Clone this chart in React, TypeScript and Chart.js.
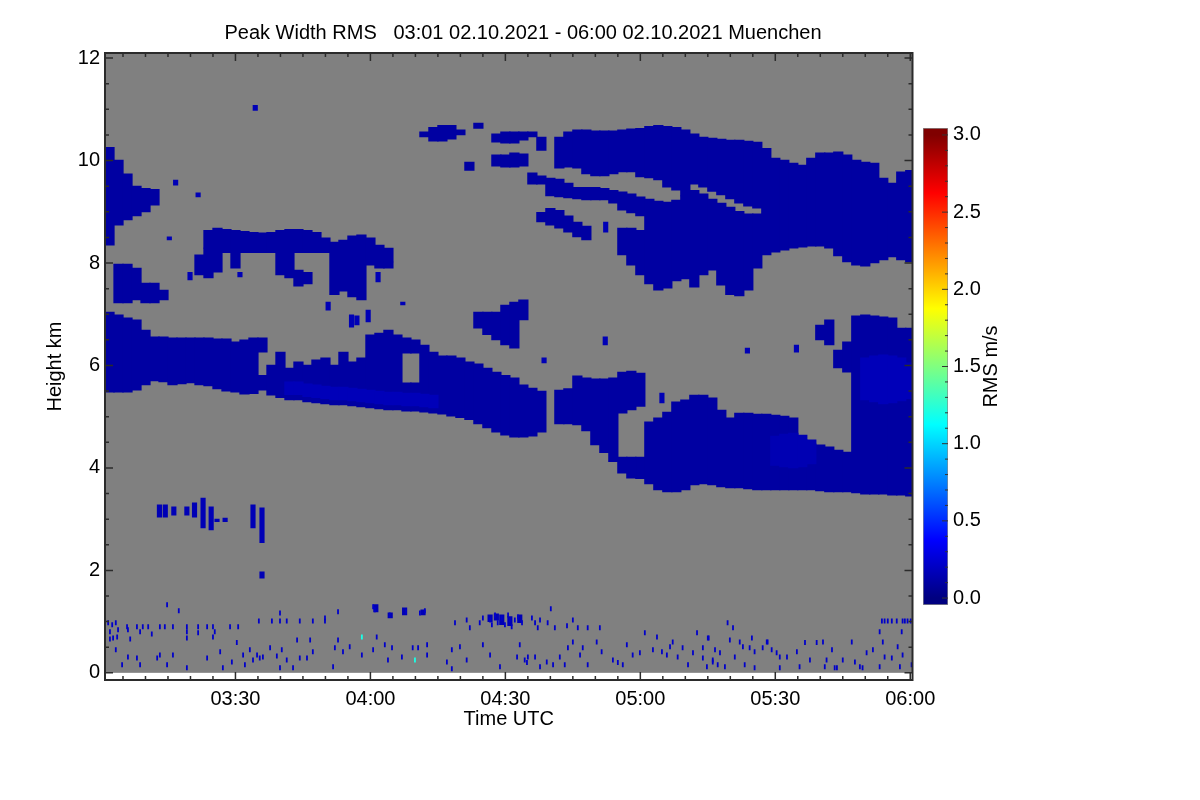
import { useEffect, useRef } from 'react';
import { Chart, registerables } from 'chart.js';

Chart.register(...registerables);

const FONT = "'Liberation Sans', Arial, Helvetica, sans-serif";
Chart.defaults.font.family = FONT;
Chart.defaults.color = '#000';

const titleText = 'Peak Width RMS   03:01 02.10.2021 - 06:00 02.10.2021 Muenchen';

// time is minutes after 00:00 UTC, height in km
const timeMin = 181;
const timeMax = 360.5;
const timeTicks = [210, 240, 270, 300, 330, 360];
const timeLabels = ['03:30', '04:00', '04:30', '05:00', '05:30', '06:00'];
const heightMin = -0.14;
const heightMax = 12.1;
const heightTicks = [0, 2, 4, 6, 8, 10, 12];
const rmsMin = -0.045;
const rmsMax = 3.045;
const rmsTicks = [0, 0.5, 1, 1.5, 2, 2.5, 3];

// cloud layers, one column every 2 minutes from the start minute
const cirrusWestStart = 182;
const cirrusWestTop = [10.26, 10.01, 9.74, 9.5, 9.46, 9.44];
const cirrusWestBase = [8.35, 8.74, 8.84, 8.92, 9.0, 9.13];

const lumpWestStart = 184;
const lumpWestTop = [7.98, 7.98, 7.9, 7.61, 7.61, 7.47];
const lumpWestBase = [7.22, 7.22, 7.28, 7.22, 7.22, 7.28];

const midWestStart = 182;
const midWestTop = [7.04, 6.99, 6.93, 6.89, 6.69, 6.56, 6.56, 6.54, 6.54, 6.54, 6.54, 6.54, 6.52, 6.52, 6.46, 6.5, 6.54, 6.54];
const midWestBase = [5.48, 5.48, 5.48, 5.52, 5.62, 5.7, 5.68, 5.62, 5.64, 5.66, 5.62, 5.6, 5.54, 5.5, 5.48, 5.44, 5.45, 6.26];

const midCentreStart = 216;
const midCentreTop = [5.81, 6.01, 6.26, 5.95, 6.07, 6.01, 6.11, 6.15, 6.01, 6.26, 6.07, 6.15, 6.6, 6.63, 6.69, 6.6, 5.66, 5.66, 6.4, 6.26, 6.19, 6.19, 6.15, 6.07, 6.03, 5.95, 5.87, 5.81, 5.76, 5.62, 5.56, 5.5];
const midCentreBase = [5.52, 5.42, 5.37, 5.33, 5.33, 5.29, 5.27, 5.25, 5.23, 5.23, 5.21, 5.19, 5.17, 5.15, 5.13, 5.13, 5.11, 5.11, 5.09, 5.07, 5.05, 5.01, 4.98, 4.94, 4.86, 4.78, 4.7, 4.64, 4.6, 4.6, 4.62, 4.7];

const ringStart = 248;
const ringTop = [6.54, 6.5];
const ringBase = [6.24, 6.24];

const blobStart = 264;
const blobTop = [7.04, 7.04, 7.04, 7.18, 7.24, 7.28];
const blobBase = [6.73, 6.6, 6.5, 6.4, 6.34, 6.89];

const lobeStart = 282;
const lobeTop = [5.52, 5.55, 5.8, 5.76, 5.74, 5.74, 5.76, 5.87, 5.89, 5.85];
const lobeBase = [4.86, 4.86, 4.84, 4.72, 4.45, 4.3, 4.12, 5.07, 5.13, 5.2];

const armStart = 296;
const armTop = [4.21, 4.21];
const armBase = [3.9, 3.8];

const midEastStart = 300;
const midEastTop = [4.21, 4.9, 4.98, 5.09, 5.29, 5.33, 5.42, 5.42, 5.37, 5.13, 4.98, 5.07, 5.07, 5.05, 5.05, 5.03, 5.01, 4.98, 4.55, 4.47, 4.45, 4.41, 4.35, 4.31];
const midEastBase = [3.79, 3.69, 3.57, 3.53, 3.53, 3.57, 3.67, 3.69, 3.67, 3.63, 3.61, 3.61, 3.59, 3.57, 3.57, 3.57, 3.57, 3.57, 3.57, 3.57, 3.55, 3.53, 3.53, 3.53];

const towerStart = 348;
const towerTop = [6.97, 6.99, 6.97, 6.95, 6.93, 6.73, 6.73];
const towerBase = [3.51, 3.49, 3.49, 3.49, 3.47, 3.47, 3.45];

const deckStart = 204;
const deckTop = [8.64, 8.68, 8.66, 8.64, 8.62, 8.6, 8.59, 8.6, 8.64, 8.66, 8.66, 8.64, 8.6, 8.49, 8.41, 8.45, 8.53, 8.55, 8.49, 8.35, 8.29];
const deckBase = [8.29, 8.25, 8.2, 8.2, 8.2, 8.2, 8.2, 8.2, 8.2, 8.2, 8.2, 8.2, 8.2, 8.2, 8.2, 8.2, 8.2, 8.2, 8.2, 8.2, 8.02];

const upperBandStart = 282;
const upperBandTop = [10.46, 10.56, 10.6, 10.6, 10.58, 10.58, 10.58, 10.6, 10.62, 10.63, 10.67, 10.69, 10.67, 10.65, 10.6, 10.52, 10.46, 10.44, 10.42, 10.4, 10.4, 10.38, 10.36, 10.24, 10.05, 10.01, 9.95, 9.91, 10.05, 10.15, 10.15, 10.17, 10.11, 10.01, 9.97, 9.95, 9.66, 9.56, 9.78, 9.81];
const upperBandBase = [9.85, 9.87, 9.85, 9.74, 9.7, 9.7, 9.74, 9.78, 9.78, 9.68, 9.66, 9.62, 9.48, 9.42, 9.31, 9.54, 9.48, 9.4, 9.33, 9.25, 9.17, 9.11, 9.07, 8.16, 8.21, 8.25, 8.29, 8.31, 8.33, 8.33, 8.29, 8.14, 8.02, 7.96, 7.94, 8.0, 8.06, 8.12, 8.06, 8.02];

const lowerBandStart = 276;
const lowerBandTop = [9.76, 9.7, 9.66, 9.64, 9.56, 9.48, 9.48, 9.48, 9.46, 9.42, 9.39, 9.35, 9.29, 9.25, 9.21, 9.19, 9.23, 9.31, 9.42, 9.35, 9.25, 9.17, 9.09, 9.01, 8.96, 8.96];
const lowerBandBase = [9.54, 9.54, 9.31, 9.29, 9.27, 9.25, 9.23, 9.23, 9.23, 9.17, 9.03, 8.98, 8.92, 7.59, 7.47, 7.51, 7.65, 7.69, 7.53, 7.77, 7.86, 7.57, 7.38, 7.36, 7.47, 7.9];

const slantStart = 278;
const slantTop = [8.99, 9.07, 9.03, 8.92, 8.8, 8.72];
const slantBase = [8.8, 8.74, 8.68, 8.6, 8.51, 8.45];

const hangStart = 296;
const hangTop = [8.68, 8.68, 8.64];
const hangBase = [8.16, 7.96, 7.77];

// slightly higher RMS patches inside the layers
const midBrightStart = 222;
const midBrightTop = [5.68, 5.68, 5.64, 5.62, 5.6, 5.58, 5.58, 5.56, 5.54, 5.52, 5.5, 5.48, 5.48, 5.46, 5.46, 5.44, 5.42];
const midBrightBase = [5.43, 5.43, 5.39, 5.37, 5.35, 5.33, 5.33, 5.31, 5.29, 5.27, 5.25, 5.23, 5.23, 5.21, 5.21, 5.19, 5.17];
const towerBrightStart = 350;
const towerBrightTop = [6.15, 6.19, 6.21, 6.19, 6.15, 6.05];
const towerBrightBase = [5.33, 5.29, 5.25, 5.27, 5.31, 5.35];
const eastBrightStart = 330;
const eastBrightTop = [4.62, 4.66, 4.68, 4.64, 4.55];
const eastBrightBase = [4.05, 4.02, 4.0, 4.02, 4.08];

// single columns: [minute, base km, top km]
const fallstreaks = [
  [202, 7.77, 8.16], [204, 7.71, 8.29], [206, 7.82, 8.25], [210, 7.9, 8.2], [220, 7.77, 8.2],
  [222, 7.71, 8.2], [224, 7.55, 7.86], [226, 7.59, 7.82], [232, 7.38, 8.2], [234, 7.45, 8.2],
  [236, 7.34, 8.2], [238, 7.28, 8.2], [240, 7.96, 8.2], [242, 7.9, 8.2], [244, 7.9, 8.02],
  [340, 6.5, 6.79], [342, 6.4, 6.89], [344, 5.95, 6.3], [346, 5.87, 6.46],
];
const wisps = [
  [252, 10.46, 10.56], [254, 10.38, 10.65], [256, 10.38, 10.69], [258, 10.42, 10.69], [260, 10.5, 10.6],
  [264, 10.63, 10.73], [262, 9.81, 9.97], [268, 10.36, 10.52], [270, 10.34, 10.56], [272, 10.34, 10.56],
  [274, 10.4, 10.56], [276, 10.46, 10.56], [278, 10.2, 10.46], [268, 9.89, 10.11], [270, 9.87, 10.11],
  [272, 9.87, 10.15], [274, 9.89, 10.13],
];
// narrow specks: [minute, base km, top km]
const specks = [
  [193.1, 3.04, 3.28], [194.4, 3.04, 3.28], [196.3, 3.08, 3.24], [199.2, 3.08, 3.24], [200.9, 3.04, 3.32],
  [202.8, 2.83, 3.41], [204.6, 2.79, 3.24], [205.9, 2.95, 3.0], [207.7, 2.95, 3.02], [213.9, 2.83, 3.28],
  [215.9, 2.54, 3.22], [215.9, 1.85, 1.97], [214.4, 10.98, 11.08], [196.7, 9.52, 9.62], [201.7, 9.29, 9.37],
  [195.3, 8.45, 8.51], [199.9, 7.67, 7.82], [211.0, 7.73, 7.82], [230.6, 7.08, 7.24], [235.8, 6.75, 6.99],
  [237.0, 6.79, 6.97], [239.5, 6.85, 7.08], [241.7, 7.63, 7.82], [247.2, 7.18, 7.24], [292.2, 6.4, 6.56],
  [323.8, 6.24, 6.34], [334.7, 6.26, 6.4], [278.6, 6.05, 6.15], [304.8, 5.27, 5.46], [292.3, 8.6, 8.8],
  [266.6, 1.0, 1.13], [269.2, 0.94, 1.13], [271.0, 0.92, 1.1], [273.2, 0.98, 1.13], [268.0, 1.03, 1.15],
  [241.2, 1.19, 1.33], [244.4, 1.07, 1.17], [247.6, 1.13, 1.27], [251.7, 1.13, 1.23],
];
// boundary-layer noise: [minute, km]
const noisePoints = [
  [181.7, 0.98], [182.6, 0.94], [183.4, 0.98], [182.1, 0.8], [183.9, 0.84], [182.8, 0.68],
  [185.9, 0.9], [188.1, 0.9], [189.4, 0.9], [190.6, 0.9], [193.2, 0.9], [194.3, 0.9], [196.1, 0.9], [199.2, 0.9],
  [201.7, 0.9], [203.7, 0.9], [205.0, 0.9], [208.8, 0.9], [210.6, 0.9],
  [186.1, 0.84], [188.8, 0.8], [191.4, 0.76], [199.2, 0.8], [201.7, 0.78], [205.4, 0.8],
  [182.1, 0.66], [183.7, 0.7], [186.6, 0.66], [199.2, 0.68], [205.0, 0.7],
  [215.2, 1.01], [218.1, 1.01], [219.9, 1.01], [221.4, 1.01], [224.3, 1.01], [227.2, 1.01], [229.9, 1.01],
  [194.8, 1.33], [197.4, 1.21], [219.9, 1.17], [229.9, 1.07], [232.8, 1.19], [240.6, 1.29], [241.0, 1.23],
  [244.3, 1.13], [247.9, 1.19], [251.0, 1.17], [252.1, 1.21], [258.8, 0.98],
  [183.4, 0.45], [184.8, 0.16], [186.1, 0.31], [188.1, 0.29], [188.8, 0.16], [192.6, 0.29], [193.2, 0.35],
  [194.8, 0.16], [196.1, 0.35], [199.2, 0.1], [203.7, 0.29], [206.6, 0.41], [207.2, 0.1], [209.2, 0.21],
  [210.3, 0.59], [211.7, 0.35], [212.1, 0.16], [213.2, 0.45], [213.9, 0.25], [214.8, 0.35], [215.4, 0.29],
  [216.1, 0.31], [217.7, 0.49], [219.2, 0.33], [219.9, 0.1], [220.3, 0.45], [221.4, 0.25], [222.8, 0.1],
  [223.7, 0.64], [224.3, 0.29], [225.9, 0.29], [226.6, 0.64], [227.2, 0.41], [231.7, 0.12], [232.1, 0.49],
  [232.8, 0.64], [233.9, 0.41], [235.4, 0.51], [238.1, 0.35], [240.6, 0.45], [241.4, 0.7], [243.2, 0.55],
  [243.9, 0.25], [244.8, 0.49], [247.0, 0.31], [249.4, 0.49], [250.6, 0.49], [252.6, 0.55], [252.6, 0.35],
  [257.0, 0.21], [258.1, 0.45], [258.1, 0.08],
  [261.4, 1.03], [262.1, 0.88], [264.3, 0.98], [265.0, 1.07], [266.6, 1.03], [267.0, 0.94], [267.7, 1.13],
  [268.3, 0.98], [269.2, 1.07], [269.9, 0.94], [270.6, 1.13], [271.0, 1.03], [271.4, 0.9], [272.1, 1.03],
  [272.8, 1.09], [273.7, 0.98], [275.9, 1.07], [276.6, 0.98], [277.2, 0.88], [277.7, 1.03], [279.4, 0.98],
  [280.1, 1.25], [281.0, 0.88], [283.7, 0.92], [285.0, 1.03], [286.1, 0.88], [288.3, 0.88], [291.0, 0.88],
  [259.9, 0.51], [261.4, 0.25], [265.0, 0.55], [266.6, 0.35], [268.8, 0.12], [272.6, 0.31], [273.2, 0.55],
  [274.3, 0.25], [274.8, 0.2], [275.0, 0.31], [276.6, 0.31], [277.7, 0.12], [279.2, 0.21], [280.6, 0.16],
  [282.1, 0.31], [283.2, 0.16], [283.9, 0.49], [285.0, 0.6], [286.6, 0.35], [287.2, 0.49], [288.3, 0.16],
  [290.3, 0.6], [291.4, 0.41], [293.9, 0.25], [295.0, 0.2], [296.1, 0.16], [297.0, 0.55], [298.3, 0.35],
  [299.9, 0.39], [301.0, 0.78], [302.8, 0.45], [303.7, 0.7], [304.8, 0.41], [305.9, 0.35], [306.6, 0.51],
  [307.2, 0.6], [308.3, 0.31], [309.4, 0.49], [310.6, 0.16], [311.7, 0.39], [312.6, 0.78], [313.9, 0.29],
  [315.0, 0.68], [316.1, 0.21], [317.2, 0.16],
  [353.7, 1.01], [354.3, 1.01], [355.0, 1.01], [355.9, 1.01], [357.0, 1.01], [358.3, 1.01], [358.8, 1.01],
  [359.4, 1.01], [360.1, 1.01],
  [319.4, 0.98], [320.6, 0.88], [315.2, 0.68], [319.9, 0.64], [322.1, 0.6], [324.8, 0.68], [328.1, 0.6],
  [313.9, 0.49], [316.6, 0.45], [317.7, 0.39], [321.0, 0.31], [322.8, 0.51], [324.3, 0.49], [325.4, 0.41],
  [327.2, 0.49], [328.3, 0.6], [329.2, 0.45], [330.3, 0.39], [331.0, 0.31], [332.6, 0.31], [334.8, 0.41],
  [336.6, 0.59], [337.7, 0.25], [339.2, 0.59], [340.6, 0.6], [341.4, 0.25], [342.6, 0.45], [343.7, 0.1],
  [345.0, 0.25], [347.0, 0.6], [347.7, 0.21], [348.8, 0.12], [350.3, 0.39], [351.7, 0.45], [353.2, 0.8],
  [353.9, 0.6], [354.3, 0.31], [355.9, 0.29], [357.2, 0.51], [357.7, 0.12], [358.1, 0.8], [358.3, 0.35],
  [360.3, 0.16], [314.8, 0.12], [316.1, 0.25], [318.8, 0.12], [323.2, 0.16], [325.4, 0.1], [331.0, 0.1],
  [335.4, 0.12], [341.0, 0.12], [343.2, 0.1], [349.4, 0.1], [353.2, 0.12],
];
const noiseHigh = [[238.1, 0.7], [249.9, 0.25]];

const layers = [
  { start: cirrusWestStart, tops: cirrusWestTop, bases: cirrusWestBase, rms: 0.1 },
  { start: lumpWestStart, tops: lumpWestTop, bases: lumpWestBase, rms: 0.1 },
  { start: midWestStart, tops: midWestTop, bases: midWestBase, rms: 0.1 },
  { start: midCentreStart, tops: midCentreTop, bases: midCentreBase, rms: 0.1 },
  { start: ringStart, tops: ringTop, bases: ringBase, rms: 0.1 },
  { start: blobStart, tops: blobTop, bases: blobBase, rms: 0.1 },
  { start: lobeStart, tops: lobeTop, bases: lobeBase, rms: 0.1 },
  { start: armStart, tops: armTop, bases: armBase, rms: 0.1 },
  { start: midEastStart, tops: midEastTop, bases: midEastBase, rms: 0.1 },
  { start: towerStart, tops: towerTop, bases: towerBase, rms: 0.1 },
  { start: deckStart, tops: deckTop, bases: deckBase, rms: 0.1 },
  { start: upperBandStart, tops: upperBandTop, bases: upperBandBase, rms: 0.1 },
  { start: lowerBandStart, tops: lowerBandTop, bases: lowerBandBase, rms: 0.1 },
  { start: slantStart, tops: slantTop, bases: slantBase, rms: 0.1 },
  { start: hangStart, tops: hangTop, bases: hangBase, rms: 0.1 },
  { start: midBrightStart, tops: midBrightTop, bases: midBrightBase, rms: 0.17 },
  { start: towerBrightStart, tops: towerBrightTop, bases: towerBrightBase, rms: 0.17 },
  { start: eastBrightStart, tops: eastBrightTop, bases: eastBrightBase, rms: 0.15 },
];

function jet(t: number) {
  const c = (v: number) => Math.round(255 * Math.min(1, Math.max(0, v)));
  return `rgb(${c(1.5 - Math.abs(4 * t - 3))},${c(1.5 - Math.abs(4 * t - 2))},${c(1.5 - Math.abs(4 * t - 1))})`;
}
const rmsColor = (v: number) => jet(v / 3);

const layerCols = (start: number, tops: number[], bases: number[]) =>
  tops.map((top, i) => ({ x: start + 2 * i, y: [bases[i], top] }));
const tripleCols = (rows: number[][]) => rows.map(([x, base, top]) => ({ x, y: [base, top] }));

const plotFrame = {
  id: 'plotFrame',
  beforeDatasetsDraw(chart: any) {
    const { ctx, chartArea: a, scales } = chart;
    const zero = scales.y.getPixelForValue(0);
    ctx.save();
    ctx.fillStyle = '#808080';
    ctx.fillRect(a.left, a.top, a.right - a.left, zero - a.top);
    ctx.restore();
  },
  afterDatasetsDraw(chart: any) {
    const { ctx, chartArea: a, scales } = chart;
    ctx.save();
    ctx.strokeStyle = '#2b2b2b';
    ctx.lineWidth = 1.5;
    ctx.beginPath();
    for (let m = 185; m <= 360; m += 5) {
      const px = scales.x.getPixelForValue(m);
      const len = m % 30 === 0 ? 8 : 4;
      ctx.moveTo(px, a.bottom);
      ctx.lineTo(px, a.bottom - len);
      ctx.moveTo(px, a.top);
      ctx.lineTo(px, a.top + len);
    }
    for (let h = 0; h <= 12; h += 0.5) {
      const py = scales.y.getPixelForValue(h);
      const len = h % 2 === 0 ? 8 : 4;
      ctx.moveTo(a.left, py);
      ctx.lineTo(a.left + len, py);
      ctx.moveTo(a.right, py);
      ctx.lineTo(a.right - len, py);
    }
    ctx.stroke();
    ctx.lineWidth = 2;
    ctx.strokeRect(a.left, a.top, a.right - a.left, a.bottom - a.top);
    ctx.restore();
  },
  afterDraw(chart: any) {
    const { ctx } = chart;
    ctx.save();
    ctx.font = `20px ${FONT}`;
    ctx.fillStyle = '#000';
    ctx.textAlign = 'center';
    ctx.textBaseline = 'middle';
    ctx.fillText(titleText, 523, 33);
    ctx.restore();
  },
};

function RadarPlot() {
  const canvasRef = useRef<HTMLCanvasElement>(null);

  useEffect(() => {
    if (!canvasRef.current) return;
    const column = 9.6;
    const datasets: any[] = layers.map((l) => ({
      type: 'bar',
      data: layerCols(l.start, l.tops, l.bases),
      backgroundColor: rmsColor(l.rms),
      barThickness: column,
      grouped: false,
      borderWidth: 0,
      clip: 0,
      order: l.rms > 0.12 ? 2 : 3,
    }));
    datasets.push({
      type: 'bar', data: tripleCols(fallstreaks), backgroundColor: rmsColor(0.1),
      barThickness: column, grouped: false, borderWidth: 0, clip: 0, order: 3,
    });
    datasets.push({
      type: 'bar', data: tripleCols(wisps), backgroundColor: rmsColor(0.1),
      barThickness: column, grouped: false, borderWidth: 0, clip: 0, order: 3,
    });
    datasets.push({
      type: 'bar', data: tripleCols(specks), backgroundColor: rmsColor(0.16),
      barThickness: 4.5, grouped: false, borderWidth: 0, clip: 0, order: 1,
    });
    datasets.push({
      type: 'scatter', data: noisePoints.map(([x, y]) => ({ x, y })),
      pointStyle: 'line', pointRotation: 90, pointRadius: 2.5, pointBorderWidth: 1.8,
      pointBorderColor: rmsColor(0.22), pointBackgroundColor: rmsColor(0.22), clip: 0, order: 0,
    });
    datasets.push({
      type: 'scatter', data: noiseHigh.map(([x, y]) => ({ x, y })),
      pointStyle: 'line', pointRotation: 90, pointRadius: 2.5, pointBorderWidth: 1.8,
      pointBorderColor: rmsColor(1.2), pointBackgroundColor: rmsColor(1.2), clip: 0, order: 0,
    });

    const chart = new Chart(canvasRef.current, {
      type: 'bar',
      data: { datasets },
      options: {
        responsive: false,
        animation: false,
        events: [],
        layout: { padding: { left: 0, right: 287.5, top: 53, bottom: 0 } },
        plugins: { legend: { display: false }, tooltip: { enabled: false }, title: { display: false } },
        scales: {
          x: {
            type: 'linear',
            min: timeMin,
            max: timeMax,
            offset: false,
            afterFit: (s: any) => { s.height = 120; },
            afterBuildTicks: (s: any) => { s.ticks = timeTicks.map((value) => ({ value })); },
            ticks: {
              autoSkip: false,
              maxRotation: 0,
              padding: 7,
              font: { size: 20 },
              callback: (v: any) => timeLabels[timeTicks.indexOf(Number(v))],
            },
            grid: { display: false, drawTicks: false },
            border: { display: false },
            title: { display: true, text: 'Time UTC', font: { size: 20 }, padding: { top: 0, bottom: 69 } },
          },
          y: {
            type: 'linear',
            min: heightMin,
            max: heightMax,
            afterFit: (s: any) => { s.width = 105; },
            afterBuildTicks: (s: any) => { s.ticks = heightTicks.map((value) => ({ value })); },
            ticks: { padding: 5, font: { size: 20 }, callback: (v: any) => String(v) },
            grid: { display: false, drawTicks: false },
            border: { display: false },
            title: { display: true, text: 'Height km', font: { size: 20 }, padding: { top: 43, bottom: 0 } },
          },
        },
      } as any,
      plugins: [plotFrame],
    });

    return () => chart.destroy();
  }, []);

  return <canvas ref={canvasRef} width={1200} height={800} style={{ position: 'absolute', left: 0, top: 0 }} />;
}

const colorBarDecor = {
  id: 'colorBarDecor',
  afterDatasetsDraw(chart: any) {
    const { ctx, chartArea: a, scales } = chart;
    ctx.save();
    ctx.strokeStyle = '#333';
    ctx.lineWidth = 1;
    ctx.beginPath();
    for (let i = 0; i <= 30; i++) {
      const py = scales.y.getPixelForValue(i / 10);
      const len = i % 5 === 0 ? 6 : 3;
      ctx.moveTo(a.right, py);
      ctx.lineTo(a.right - len, py);
    }
    ctx.stroke();
    ctx.translate(91, (a.top + a.bottom) / 2);
    ctx.rotate(-Math.PI / 2);
    ctx.font = `20px ${FONT}`;
    ctx.fillStyle = '#000';
    ctx.textAlign = 'center';
    ctx.textBaseline = 'middle';
    ctx.fillText('RMS m/s', 0, 0);
    ctx.restore();
  },
};

function ColorBar() {
  const canvasRef = useRef<HTMLCanvasElement>(null);

  useEffect(() => {
    if (!canvasRef.current) return;
    const chart = new Chart(canvasRef.current, {
      type: 'bar',
      data: {
        labels: ['RMS'],
        datasets: [{
          data: [[rmsMin, rmsMax]],
          backgroundColor: (c: any) => {
            const ch = c.chart;
            if (!ch.chartArea) return '#00008b';
            const y = ch.scales.y;
            const g = ch.ctx.createLinearGradient(0, y.getPixelForValue(0), 0, y.getPixelForValue(3));
            for (let i = 0; i <= 24; i++) g.addColorStop(i / 24, jet(i / 24));
            return g;
          },
          borderColor: '#8a8a8a',
          borderWidth: 1,
          borderSkipped: false,
          barPercentage: 1,
          categoryPercentage: 1,
        }],
      },
      options: {
        responsive: false,
        animation: false,
        events: [],
        layout: { padding: { left: 23, top: 28, right: 0, bottom: 25 } },
        plugins: { legend: { display: false }, tooltip: { enabled: false } },
        scales: {
          x: { display: false },
          y: {
            position: 'right',
            min: rmsMin,
            max: rmsMax,
            afterFit: (s: any) => { s.width = 82; },
            afterBuildTicks: (s: any) => { s.ticks = rmsTicks.map((value) => ({ value })); },
            ticks: { padding: 5, font: { size: 20 }, callback: (v: any) => Number(v).toFixed(1) },
            grid: { display: false, drawTicks: false },
            border: { display: false },
          },
        },
      } as any,
      plugins: [colorBarDecor],
    });

    return () => chart.destroy();
  }, []);

  return <canvas ref={canvasRef} width={130} height={530} style={{ position: 'absolute', left: 900, top: 100 }} />;
}

export default function App() {
  return (
    <div style={{ position: 'absolute', left: 0, top: 0, width: 1200, height: 800, background: '#fff' }}>
      <RadarPlot />
      <ColorBar />
    </div>
  );
}
